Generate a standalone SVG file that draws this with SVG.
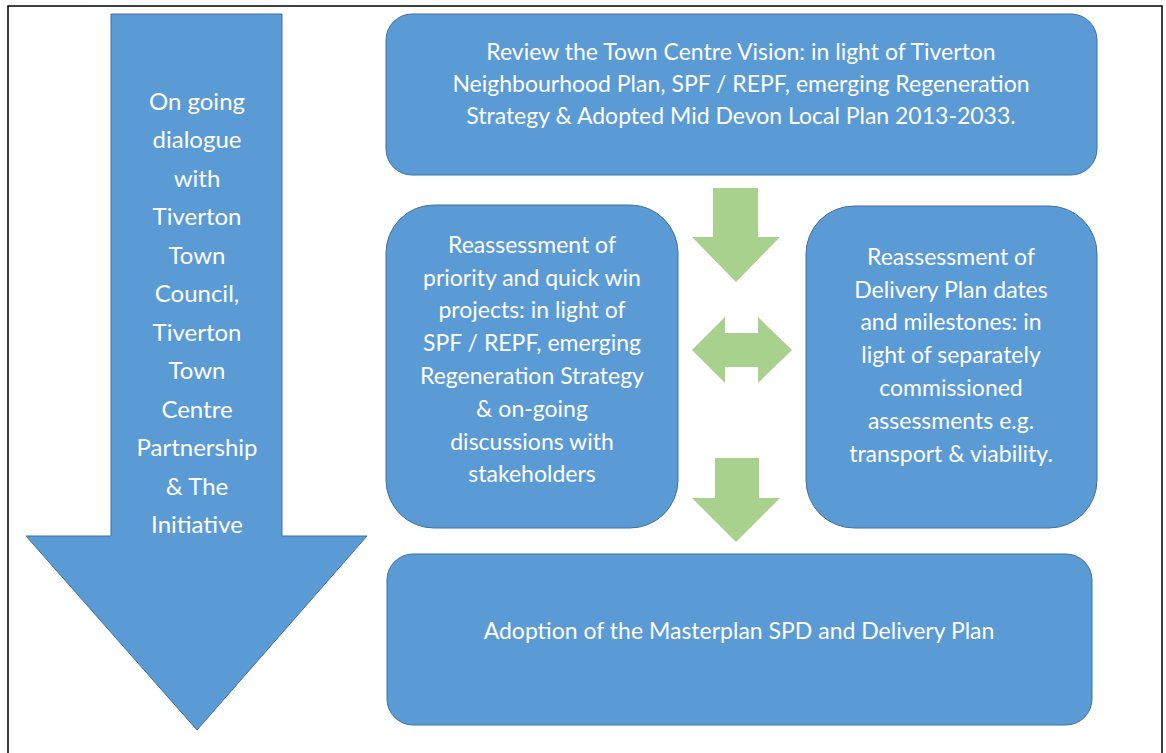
<svg xmlns="http://www.w3.org/2000/svg" width="1166" height="753" viewBox="0 0 1166 753">
<style>
.box{fill:#5B9BD5;stroke:#41719C;stroke-width:1}
.green{fill:#A9D18E}
.t{font-family:Lato,"Liberation Sans",sans-serif;fill:#ffffff;text-anchor:middle;font-size:23px}
.ta{font-family:Lato,"Liberation Sans",sans-serif;fill:#ffffff;text-anchor:middle;font-size:24px}
</style>
<rect x="0" y="0" width="1166" height="753" fill="#ffffff"/>
<rect x="8" y="6" width="1154" height="760" fill="none" stroke="#000" stroke-width="1.5"/>
<g id="dialogue">
<polygon class="box" points="111,14 282,14 282,536 367,536 197,730 26,536 111,536"/>
<text class="ta" x="197"><tspan x="197" y="110">On going</tspan><tspan x="197" y="148">dialogue</tspan><tspan x="197" y="187">with</tspan><tspan x="197" y="225">Tiverton</tspan><tspan x="197" y="264">Town</tspan><tspan x="197" y="302">Council,</tspan><tspan x="197" y="341">Tiverton</tspan><tspan x="197" y="379">Town</tspan><tspan x="197" y="418">Centre</tspan><tspan x="197" y="456">Partnership</tspan><tspan x="197" y="495">&amp; The</tspan><tspan x="197" y="533">Initiative</tspan></text>
</g>
<g id="review">
<rect class="box" x="386" y="14" width="711" height="161" rx="26"/>
<text class="t"><tspan x="741" y="60">Review the Town Centre Vision: in light of Tiverton</tspan><tspan x="741" y="92">Neighbourhood Plan, SPF / REPF, emerging Regeneration</tspan><tspan x="741" y="124">Strategy &amp; Adopted Mid Devon Local Plan 2013-2033.</tspan></text>
</g>
<g id="priority">
<rect class="box" x="386" y="205" width="292" height="323" rx="48"/>
<text class="t"><tspan x="532" y="253">Reassessment of</tspan><tspan x="532" y="286">priority and quick win</tspan><tspan x="532" y="318">projects: in light of</tspan><tspan x="532" y="351">SPF / REPF, emerging</tspan><tspan x="532" y="384">Regeneration Strategy</tspan><tspan x="532" y="417">&amp; on-going</tspan><tspan x="532" y="450">discussions with</tspan><tspan x="532" y="482">stakeholders</tspan></text>
</g>
<g id="delivery">
<rect class="box" x="806" y="206" width="291" height="322" rx="48"/>
<text class="t"><tspan x="951" y="265">Reassessment of</tspan><tspan x="951" y="298">Delivery Plan dates</tspan><tspan x="951" y="330">and milestones: in</tspan><tspan x="951" y="363">light of separately</tspan><tspan x="951" y="396">commissioned</tspan><tspan x="951" y="429">assessments e.g.</tspan><tspan x="951" y="462">transport &amp; viability.</tspan></text>
</g>
<g id="adoption">
<rect class="box" x="387" y="554" width="705" height="171" rx="26"/>
<text class="t" x="739" y="639">Adoption of the Masterplan SPD and Delivery Plan</text>
</g>
<g id="connectors">
<polygon class="green" points="713,188 758,188 758,237 780,237 736,282 692,237 713,237"/>
<polygon class="green" points="692,350 725,317 725,333 758,333 758,317 792,350 758,383 758,367 725,367 725,383"/>
<polygon class="green" points="715,458 759,458 759,498 780,498 736,542 692,498 715,498"/>
</g>
</svg>
